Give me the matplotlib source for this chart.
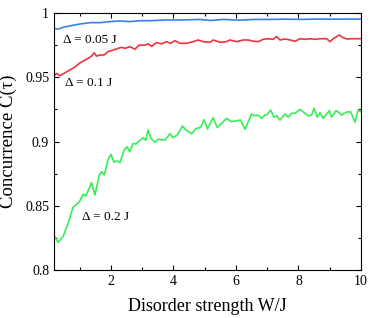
import matplotlib
matplotlib.use('Agg')
import matplotlib.pyplot as plt
from matplotlib.ticker import MultipleLocator

plt.rcParams['font.family'] = ['Liberation Serif', 'DejaVu Serif']

# delta = 0.05 J
x_blue = [0.18, 0.31, 0.47, 0.69, 1.0, 1.33, 1.65, 1.97, 2.29, 2.6, 2.93, 3.25, 3.78,
          4.3, 4.85, 5.2, 5.6, 6.1, 6.6, 7.1, 7.6, 8.1, 8.6, 9.1, 9.6, 10.0]
y_blue = [0.988, 0.9875, 0.9889, 0.990, 0.9914, 0.9925, 0.9925, 0.9933, 0.9938, 0.9933,
          0.994, 0.994, 0.9946, 0.9946, 0.995, 0.9942, 0.995, 0.9944, 0.995, 0.995,
          0.9952, 0.995, 0.9953, 0.9952, 0.9953, 0.9953]

# delta = 0.1 J
x_red = [0.18, 0.26, 0.37, 0.53, 0.71, 0.85, 1.0, 1.17, 1.27, 1.38, 1.47, 1.54, 1.65,
         1.78, 1.91, 2.05, 2.23, 2.34, 2.45, 2.61, 2.77, 2.9, 3.09, 3.19, 3.3, 3.46,
         3.62, 3.78, 3.91, 4.05, 4.21, 4.42, 4.63, 4.79, 4.95, 5.17, 5.27, 5.49, 5.7,
         5.81, 6.02, 6.23, 6.39, 6.55, 6.71, 6.87, 7.03, 7.19, 7.3, 7.41, 7.57, 7.73,
         7.89, 8.05, 8.21, 8.37, 8.53, 8.69, 8.9, 9.01, 9.11, 9.22, 9.3, 9.41, 9.54,
         9.75, 10.0]
y_red = [0.951, 0.953, 0.9512, 0.9535, 0.956, 0.958, 0.961, 0.9634, 0.9647, 0.9665,
         0.969, 0.9665, 0.9673, 0.9673, 0.970, 0.971, 0.9725, 0.9733, 0.9725, 0.9738,
         0.9718, 0.975, 0.975, 0.976, 0.974, 0.977, 0.976, 0.9777, 0.9764, 0.9785,
         0.9764, 0.9764, 0.9777, 0.979, 0.9777, 0.9772, 0.979, 0.9772, 0.9777, 0.979,
         0.9777, 0.979, 0.979, 0.978, 0.9777, 0.9795, 0.980, 0.9795, 0.9816, 0.979,
         0.9798, 0.979, 0.978, 0.980, 0.9795, 0.980, 0.9795, 0.980, 0.980, 0.9777,
         0.980, 0.9816, 0.9829, 0.981, 0.9798, 0.980, 0.980]

# delta = 0.2 J
x_green = [0.18, 0.31, 0.47, 0.63, 0.79, 0.99, 1.11, 1.2, 1.38, 1.49, 1.63, 1.7, 1.79,
           1.91, 2.0, 2.1, 2.18, 2.29, 2.42, 2.52, 2.6, 2.71, 2.8, 2.93, 3.03, 3.12,
           3.19, 3.28, 3.41, 3.51, 3.73, 3.89, 3.99, 4.12, 4.29, 4.4, 4.58, 4.72, 4.87,
           4.98, 5.09, 5.27, 5.4, 5.54, 5.7, 5.86, 6.15, 6.29, 6.5, 6.61, 6.71, 6.82,
           6.93, 7.0, 7.11, 7.22, 7.3, 7.41, 7.57, 7.67, 7.78, 7.89, 8.05, 8.18, 8.31,
           8.42, 8.5, 8.6, 8.69, 8.79, 8.99, 9.06, 9.2, 9.27, 9.38, 9.54, 9.67, 9.81,
           9.91, 10.0]
y_green = [0.827, 0.8216, 0.826, 0.8363, 0.8488, 0.853, 0.859, 0.8576, 0.868, 0.8584,
           0.874, 0.8765, 0.874, 0.886, 0.890, 0.884, 0.885, 0.8835, 0.893, 0.896,
           0.892, 0.8986, 0.898, 0.901, 0.903, 0.901, 0.909, 0.9025, 0.8994, 0.9017,
           0.9012, 0.906, 0.903, 0.905, 0.912, 0.909, 0.906, 0.910, 0.911, 0.917,
           0.9097, 0.9185, 0.911, 0.914, 0.918, 0.9154, 0.9167, 0.9095, 0.9214, 0.920,
           0.9206, 0.918, 0.9206, 0.921, 0.9245, 0.919, 0.920, 0.9167, 0.9214, 0.919,
           0.922, 0.922, 0.925, 0.9224, 0.920, 0.9206, 0.9258, 0.919, 0.9224, 0.918,
           0.924, 0.919, 0.924, 0.923, 0.9206, 0.923, 0.923, 0.915, 0.9245, 0.923]

labels = ['Δ = 0.05 J', 'Δ = 0.1 J', 'Δ = 0.2 J']

fig = plt.figure(figsize=(3.74, 3.18), dpi=100)
ax = fig.add_axes([0.1444, 0.1509, 0.8208, 0.8082])

ax.plot(x_blue, y_blue, color='#3a80e8', lw=1.2)
ax.plot(x_red, y_red, color='#f0333d', lw=1.2)
ax.plot(x_green, y_green, color='#38ee55', lw=1.2)

ax.text(0.46, 0.979, labels[0], fontsize=9.5, va='center')
ax.text(0.53, 0.9455, labels[1], fontsize=9.5, va='center')
ax.text(1.07, 0.841, labels[2], fontsize=9.5, va='center')

ax.set_xlim(0.18, 10)
ax.set_ylim(0.8, 1.0)
ax.xaxis.set_major_locator(MultipleLocator(2))
ax.xaxis.set_minor_locator(MultipleLocator(1))
ax.yaxis.set_minor_locator(MultipleLocator(0.025))
ax.set_yticks([0.8, 0.85, 0.9, 0.95, 1.0])
ax.set_yticklabels(['0.8', '0.85', '0.9', '0.95', '1'])
ax.tick_params(which='both', direction='in', top=True, right=True, labelsize=10)
ax.tick_params(which='major', length=3.5, width=0.8)
ax.tick_params(which='minor', length=2, width=0.8)

ax.set_xlabel('Disorder strength W/J', fontsize=13, labelpad=7)
ax.set_ylabel('Concurrence C(τ)', fontsize=13.5, labelpad=6)

fig.savefig('out.png', dpi=100)
